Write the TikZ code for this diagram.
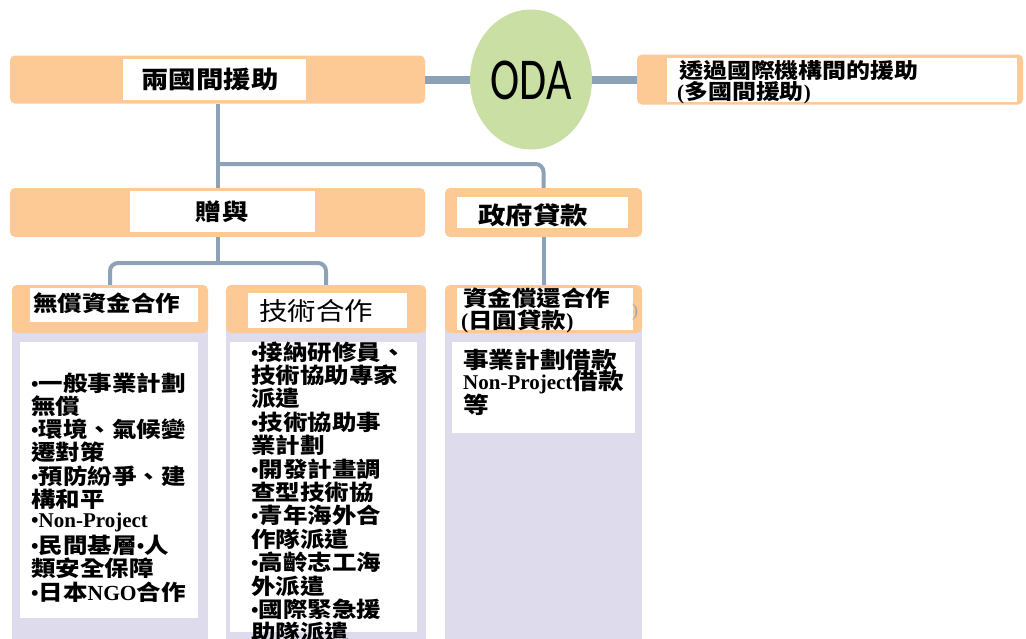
\documentclass[tikz,border=0pt]{standalone}
\usepackage{fontspec}
\usetikzlibrary{shapes.geometric}
\newfontfamily\cjk[FakeStretch=1.14]{Noto Sans CJK TC}
\newfontfamily\ser{Liberation Serif}
\newfontfamily\odaf{Carlito}
\newcommand\bul{{\ser\bfseries •}}
\definecolor{orng}{HTML}{FDCA96}
\definecolor{lavc}{HTML}{DDDBEC}
\definecolor{grn}{HTML}{C9DFA4}
\definecolor{lnc}{HTML}{8DA2B6}
\begin{document}
\begin{tikzpicture}[x=1pt,y=-1pt,
  obar/.style={fill=orng, rounded corners=5pt, draw=none, inner sep=0},
  wbox/.style={fill=white, draw=none, inner sep=0},
  lav/.style={fill=lavc, draw=none, inner sep=0},
  conn/.style={draw=lnc, line width=8pt},
  tree/.style={draw=lnc, line width=4pt, rounded corners=8pt},
  txt/.style={font=\fontsize{21.5}{21.5}\selectfont\cjk\bfseries, inner sep=0, anchor=west},
  ctxt/.style={font=\fontsize{23}{23}\selectfont\cjk\bfseries, inner sep=0}]
\useasboundingbox (0,0) rectangle (1026,638);
\clip (0,0) rectangle (1026,638);
% top row
\node[obar, minimum width=415pt, minimum height=48pt] (bil) at (217.5,79.5) {};
\node[wbox, minimum width=183pt, minimum height=41pt] (bilw) at (214.5,79.5) {};
\node[ctxt, font=\fontsize{24}{24}\selectfont\cjk\bfseries] (bilt) at (210,79) {兩國間援助};
\node[ellipse, fill=grn, minimum width=122pt, minimum height=140pt, inner sep=0] (oda) at (531,79.5) {};
\node[inner sep=0, font=\fontsize{44}{44}\selectfont\odaf] (odat) at (531,80) {\scalebox{1}[1.35]{ODA}};
\node[obar, minimum width=386pt, minimum height=50pt] (mul) at (830,79.5) {};
\node[wbox, minimum width=350pt, minimum height=44pt] (mulw) at (842,79.5) {};
\node[txt, font=\fontsize{21}{21}\selectfont\cjk\bfseries] (mult1) at (679,71) {透過國際機構間的援助};
\node[txt, font=\fontsize{21}{21}\selectfont\cjk\bfseries] (mult2) at (677,93) {{\ser\bfseries(}多國間援助{\ser\bfseries)}};
% second row
\node[obar, minimum width=415pt, minimum height=49pt] (giv) at (217.5,212.5) {};
\node[wbox, minimum width=185pt, minimum height=41pt] (givw) at (222.5,211.5) {};
\node[ctxt] (givt) at (222,212) {贈與};
\node[obar, minimum width=197pt, minimum height=49pt] (loan) at (543.5,212.5) {};
\node[wbox, minimum width=171pt, minimum height=31pt] (loanw) at (542.5,212.5) {};
\node[ctxt, font=\fontsize{24}{24}\selectfont\cjk\bfseries] (loant) at (533,215) {政府貸款};
% columns
\node[lav, minimum width=196pt, minimum height=340pt] (c1b) at (110,470) {};
\node[obar, minimum width=196pt, minimum height=48pt] (c1h) at (110,309) {};
\node[wbox, minimum width=168pt, minimum height=34pt] (c1hw) at (114,305) {};
\node[wbox, minimum width=178pt, minimum height=276pt] (c1w) at (109,480) {};
\node[txt] (c1t) at (33,303) {無償資金合作};

\node[lav, minimum width=200pt, minimum height=340pt] (c2b) at (326,470) {};
\node[obar, minimum width=200pt, minimum height=48pt] (c2h) at (326,309) {};
\node[wbox, minimum width=159pt, minimum height=35pt] (c2hw) at (327.5,310.5) {};
\node[wbox, minimum width=187pt, minimum height=290pt] (c2w) at (323.5,487) {};
\node[txt, font=\fontsize{25}{25}\selectfont\cjk] (c2t) at (259,311) {技術合作};

\node[lav, minimum width=197pt, minimum height=340pt] (c3b) at (543.5,470) {};
\node[obar, minimum width=197pt, minimum height=48pt] (c3h) at (543.5,309) {};
\node[wbox, minimum width=176pt, minimum height=42pt] (c3hw) at (545,309) {};
\node[wbox, minimum width=183pt, minimum height=91pt] (c3w) at (543.5,387.5) {};
\node[txt] (c3t1) at (463,298) {資金償還合作};
\node[txt] (c3t2) at (461,321) {{\ser\bfseries(}日圓貸款{\ser\bfseries)}};
\node[inner sep=0, text=black!35, font=\fontsize{18}{18}\selectfont\ser] (paren) at (635,312) {)};
% column body texts
\foreach \t [count=\i] in {{\bul 一般事業計劃},{無償},{\bul 環境、氣候變},{遷對策},{\bul 預防紛爭、建},{構和平},{\bul{\ser\bfseries\fontsize{21}{21}\selectfont Non-Project}},{\bul 民間基層\bul 人},{類安全保障},{\bul 日本{\ser\bfseries NGO}合作}}
  \node[txt] (c1l\i) at (31,{383+23.2*(\i-1)}) {\t};
\foreach \t [count=\i] in {{\bul 接納研修員、},{技術協助專家},{派遣},{\bul 技術協助事},{業計劃},{\bul 開發計畫調},{查型技術協},{\bul 青年海外合},{作隊派遣},{\bul 高齡志工海},{外派遣},{\bul 國際緊急援},{助隊派遣}}
  \node[txt] (c2l\i) at (251,{352+23.4*(\i-1)}) {\t};
\foreach \t [count=\i] in {{事業計劃借款},{{\ser\bfseries\fontsize{21}{21}\selectfont Non-Project}借款},{等}}
  \node[txt, font=\fontsize{22.5}{22.5}\selectfont\cjk\bfseries] (c3l\i) at (463,{360+22.5*(\i-1)}) {\t};
% connectors
\draw[conn] (bil.east) -- (oda.west);
\draw[conn] (oda.east) -- (mul.west);
\coordinate (j1) at (217.5,164);
\coordinate (j2) at (217.5,263);
\draw[tree] (bil.south) -- (giv.north);
\draw[tree] (j1) -| (loan.north);
\draw[tree] (giv.south) -- (j2);
\draw[tree] (c1h.north) |- (j2) -| (c2h.north);
\draw[tree] (loan.south) -- (c3h.north);
\end{tikzpicture}
\end{document}
